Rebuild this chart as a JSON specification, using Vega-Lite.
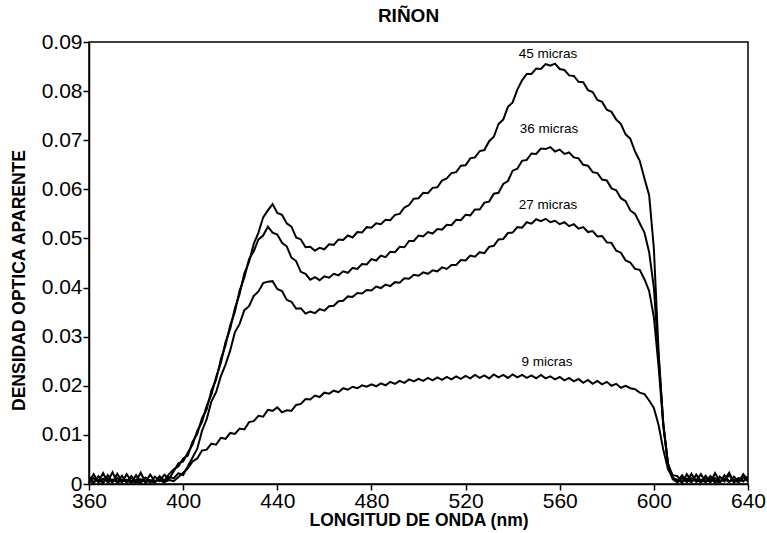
{
"$schema": "https://vega.github.io/schema/vega-lite/v6.json",
"width": 659, "height": 442,
"autosize": {"type": "none"},
"padding": {"left": 89, "top": 42, "right": 19, "bottom": 49},
"background": "white",
"config": {"view": {"stroke": "black", "strokeWidth": 1.5}, "font": "Liberation Sans"},
"title": {"text": "RIÑON", "fontSize": 19, "fontWeight": "bold", "color": "black", "offset": 5, "dx": -10},
"datasets": {
"spec": [
{"x":360,"m45":0.0008,"m36":0.0003,"m27":0.0015,"m9":0.0005},
{"x":362,"m45":0.0002,"m36":0.0012,"m27":0.0004,"m9":0.0020},
{"x":364,"m45":0.0016,"m36":0.0005,"m27":0.0009,"m9":0.0003},
{"x":366,"m45":0.0004,"m36":0.0022,"m27":0.0002,"m9":0.0011},
{"x":368,"m45":0.0011,"m36":0.0003,"m27":0.0018,"m9":0.0006},
{"x":370,"m45":0.0003,"m36":0.0009,"m27":0.0005,"m9":0.0024},
{"x":372,"m45":0.0021,"m36":0.0004,"m27":0.0012,"m9":0.0002},
{"x":374,"m45":0.0005,"m36":0.0017,"m27":0.0003,"m9":0.0009},
{"x":376,"m45":0.0009,"m36":0.0002,"m27":0.0020,"m9":0.0004},
{"x":378,"m45":0.0002,"m36":0.0013,"m27":0.0006,"m9":0.0016},
{"x":380,"m45":0.0018,"m36":0.0006,"m27":0.0003,"m9":0.0005},
{"x":382,"m45":0.0004,"m36":0.0023,"m27":0.0010,"m9":0.0002},
{"x":384,"m45":0.0012,"m36":0.0003,"m27":0.0004,"m9":0.0013},
{"x":386,"m45":0.0003,"m36":0.0008,"m27":0.0019,"m9":0.0006},
{"x":388,"m45":0.0015,"m36":0.0004,"m27":0.0005,"m9":0.0003},
{"x":390,"m45":0.0006,"m36":0.0016,"m27":0.0008,"m9":0.0014},
{"x":392,"m45":0.0019,"m36":0.0007,"m27":0.0003,"m9":0.0004},
{"x":394,"m45":0.0010,"m36":0.0020,"m27":0.0014,"m9":0.0008},
{"x":396,"m45":0.0026,"m36":0.0030,"m27":0.0012,"m9":0.0006},
{"x":398,"m45":0.0042,"m36":0.0036,"m27":0.0022,"m9":0.0014},
{"x":400,"m45":0.0046,"m36":0.0052,"m27":0.0018,"m9":0.0023},
{"x":402,"m45":0.0064,"m36":0.0058,"m27":0.0036,"m9":0.0032},
{"x":404,"m45":0.0080,"m36":0.0086,"m27":0.0054,"m9":0.0046},
{"x":406,"m45":0.0108,"m36":0.0102,"m27":0.0072,"m9":0.0052},
{"x":408,"m45":0.0126,"m36":0.0134,"m27":0.0108,"m9":0.0068},
{"x":410,"m45":0.0159,"m36":0.0152,"m27":0.0132,"m9":0.0070},
{"x":412,"m45":0.0182,"m36":0.0190,"m27":0.0168,"m9":0.0082},
{"x":414,"m45":0.0218,"m36":0.0212,"m27":0.0187,"m9":0.0080},
{"x":416,"m45":0.0246,"m36":0.0254,"m27":0.0219,"m9":0.0094},
{"x":418,"m45":0.0289,"m36":0.0282,"m27":0.0243,"m9":0.0092},
{"x":420,"m45":0.0316,"m36":0.0323,"m27":0.0272,"m9":0.0104},
{"x":422,"m45":0.0358,"m36":0.0351,"m27":0.0309,"m9":0.0102},
{"x":424,"m45":0.0387,"m36":0.0394,"m27":0.0326,"m9":0.0113},
{"x":426,"m45":0.0429,"m36":0.0420,"m27":0.0354,"m9":0.0111},
{"x":428,"m45":0.0452,"m36":0.0458,"m27":0.0362,"m9":0.0126},
{"x":430,"m45":0.0489,"m36":0.0474,"m27":0.0383,"m9":0.0128},
{"x":432,"m45":0.0512,"m36":0.0498,"m27":0.0392,"m9":0.0139},
{"x":434,"m45":0.0543,"m36":0.0506,"m27":0.0409,"m9":0.0137},
{"x":436,"m45":0.0557,"m36":0.0524,"m27":0.0412,"m9":0.0151},
{"x":438,"m45":0.0570,"m36":0.0512,"m27":0.0413,"m9":0.0149},
{"x":440,"m45":0.0552,"m36":0.0508,"m27":0.0397,"m9":0.0156},
{"x":442,"m45":0.0548,"m36":0.0491,"m27":0.0393,"m9":0.0146},
{"x":444,"m45":0.0531,"m36":0.0484,"m27":0.0375,"m9":0.0150},
{"x":446,"m45":0.0524,"m36":0.0461,"m27":0.0371,"m9":0.0149},
{"x":448,"m45":0.0502,"m36":0.0454,"m27":0.0357,"m9":0.0161},
{"x":450,"m45":0.0498,"m36":0.0432,"m27":0.0358,"m9":0.0163},
{"x":452,"m45":0.0482,"m36":0.0428,"m27":0.0347,"m9":0.0173},
{"x":454,"m45":0.0483,"m36":0.0416,"m27":0.0351,"m9":0.0172},
{"x":456,"m45":0.0475,"m36":0.0421,"m27":0.0348,"m9":0.0180},
{"x":458,"m45":0.0481,"m36":0.0415,"m27":0.0356,"m9":0.0177},
{"x":460,"m45":0.0478,"m36":0.0423,"m27":0.0353,"m9":0.0186},
{"x":462,"m45":0.0488,"m36":0.0420,"m27":0.0362,"m9":0.0184},
{"x":464,"m45":0.0487,"m36":0.0428,"m27":0.0363,"m9":0.0190},
{"x":466,"m45":0.0498,"m36":0.0425,"m27":0.0372,"m9":0.0187},
{"x":468,"m45":0.0497,"m36":0.0433,"m27":0.0373,"m9":0.0195},
{"x":470,"m45":0.0506,"m36":0.0430,"m27":0.0382,"m9":0.0192},
{"x":472,"m45":0.0502,"m36":0.0440,"m27":0.0381,"m9":0.0198},
{"x":474,"m45":0.0513,"m36":0.0438,"m27":0.0389,"m9":0.0195},
{"x":476,"m45":0.0512,"m36":0.0448,"m27":0.0388,"m9":0.0201},
{"x":478,"m45":0.0523,"m36":0.0447,"m27":0.0395,"m9":0.0198},
{"x":480,"m45":0.0522,"m36":0.0458,"m27":0.0394,"m9":0.0203},
{"x":482,"m45":0.0531,"m36":0.0455,"m27":0.0402,"m9":0.0199},
{"x":484,"m45":0.0529,"m36":0.0465,"m27":0.0399,"m9":0.0205},
{"x":486,"m45":0.0538,"m36":0.0462,"m27":0.0406,"m9":0.0201},
{"x":488,"m45":0.0537,"m36":0.0473,"m27":0.0403,"m9":0.0208},
{"x":490,"m45":0.0548,"m36":0.0472,"m27":0.0411,"m9":0.0204},
{"x":492,"m45":0.0550,"m36":0.0483,"m27":0.0410,"m9":0.0210},
{"x":494,"m45":0.0563,"m36":0.0482,"m27":0.0419,"m9":0.0206},
{"x":496,"m45":0.0568,"m36":0.0495,"m27":0.0418,"m9":0.0213},
{"x":498,"m45":0.0581,"m36":0.0495,"m27":0.0426,"m9":0.0209},
{"x":500,"m45":0.0582,"m36":0.0506,"m27":0.0424,"m9":0.0214},
{"x":502,"m45":0.0593,"m36":0.0504,"m27":0.0431,"m9":0.0210},
{"x":504,"m45":0.0592,"m36":0.0513,"m27":0.0428,"m9":0.0216},
{"x":506,"m45":0.0603,"m36":0.0510,"m27":0.0435,"m9":0.0211},
{"x":508,"m45":0.0604,"m36":0.0519,"m27":0.0433,"m9":0.0217},
{"x":510,"m45":0.0618,"m36":0.0518,"m27":0.0441,"m9":0.0212},
{"x":512,"m45":0.0622,"m36":0.0528,"m27":0.0438,"m9":0.0218},
{"x":514,"m45":0.0633,"m36":0.0527,"m27":0.0446,"m9":0.0213},
{"x":516,"m45":0.0635,"m36":0.0538,"m27":0.0446,"m9":0.0219},
{"x":518,"m45":0.0648,"m36":0.0537,"m27":0.0456,"m9":0.0214},
{"x":520,"m45":0.0649,"m36":0.0548,"m27":0.0455,"m9":0.0220},
{"x":522,"m45":0.0663,"m36":0.0547,"m27":0.0465,"m9":0.0215},
{"x":524,"m45":0.0665,"m36":0.0559,"m27":0.0463,"m9":0.0222},
{"x":526,"m45":0.0678,"m36":0.0559,"m27":0.0472,"m9":0.0216},
{"x":528,"m45":0.0680,"m36":0.0573,"m27":0.0470,"m9":0.0221},
{"x":530,"m45":0.0698,"m36":0.0575,"m27":0.0483,"m9":0.0215},
{"x":532,"m45":0.0707,"m36":0.0591,"m27":0.0485,"m9":0.0223},
{"x":534,"m45":0.0733,"m36":0.0593,"m27":0.0498,"m9":0.0217},
{"x":536,"m45":0.0742,"m36":0.0611,"m27":0.0499,"m9":0.0222},
{"x":538,"m45":0.0768,"m36":0.0617,"m27":0.0511,"m9":0.0216},
{"x":540,"m45":0.0777,"m36":0.0638,"m27":0.0512,"m9":0.0223},
{"x":542,"m45":0.0803,"m36":0.0642,"m27":0.0523,"m9":0.0217},
{"x":544,"m45":0.0822,"m36":0.0658,"m27":0.0522,"m9":0.0222},
{"x":546,"m45":0.0835,"m36":0.0660,"m27":0.0533,"m9":0.0216},
{"x":548,"m45":0.0835,"m36":0.0673,"m27":0.0530,"m9":0.0221},
{"x":550,"m45":0.0846,"m36":0.0672,"m27":0.0539,"m9":0.0215},
{"x":552,"m45":0.0845,"m36":0.0683,"m27":0.0535,"m9":0.0222},
{"x":554,"m45":0.0855,"m36":0.0682,"m27":0.0540,"m9":0.0215},
{"x":556,"m45":0.0852,"m36":0.0686,"m27":0.0533,"m9":0.0219},
{"x":558,"m45":0.0856,"m36":0.0677,"m27":0.0536,"m9":0.0213},
{"x":560,"m45":0.0845,"m36":0.0681,"m27":0.0529,"m9":0.0218},
{"x":562,"m45":0.0843,"m36":0.0672,"m27":0.0533,"m9":0.0211},
{"x":564,"m45":0.0832,"m36":0.0675,"m27":0.0525,"m9":0.0216},
{"x":566,"m45":0.0831,"m36":0.0665,"m27":0.0529,"m9":0.0209},
{"x":568,"m45":0.0819,"m36":0.0663,"m27":0.0520,"m9":0.0214},
{"x":570,"m45":0.0818,"m36":0.0650,"m27":0.0523,"m9":0.0206},
{"x":572,"m45":0.0802,"m36":0.0648,"m27":0.0513,"m9":0.0212},
{"x":574,"m45":0.0798,"m36":0.0635,"m27":0.0515,"m9":0.0204},
{"x":576,"m45":0.0782,"m36":0.0633,"m27":0.0504,"m9":0.0210},
{"x":578,"m45":0.0778,"m36":0.0620,"m27":0.0505,"m9":0.0203},
{"x":580,"m45":0.0762,"m36":0.0618,"m27":0.0492,"m9":0.0208},
{"x":582,"m45":0.0758,"m36":0.0602,"m27":0.0491,"m9":0.0200},
{"x":584,"m45":0.0742,"m36":0.0598,"m27":0.0475,"m9":0.0204},
{"x":586,"m45":0.0733,"m36":0.0582,"m27":0.0471,"m9":0.0196},
{"x":588,"m45":0.0712,"m36":0.0576,"m27":0.0455,"m9":0.0200},
{"x":590,"m45":0.0703,"m36":0.0557,"m27":0.0451,"m9":0.0195},
{"x":592,"m45":0.0677,"m36":0.0550,"m27":0.0438,"m9":0.0193},
{"x":594,"m45":0.0658,"m36":0.0531,"m27":0.0436,"m9":0.0186},
{"x":596,"m45":0.0622,"m36":0.0512,"m27":0.0417,"m9":0.0183},
{"x":598,"m45":0.0588,"m36":0.0472,"m27":0.0393,"m9":0.0170},
{"x":600,"m45":0.0480,"m36":0.0400,"m27":0.0340,"m9":0.0155},
{"x":602,"m45":0.0270,"m36":0.0260,"m27":0.0240,"m9":0.0120},
{"x":604,"m45":0.0120,"m36":0.0125,"m27":0.0120,"m9":0.0070},
{"x":606,"m45":0.0040,"m36":0.0040,"m27":0.0042,"m9":0.0030},
{"x":608,"m45":0.0014,"m36":0.0018,"m27":0.0010,"m9":0.0012},
{"x":610,"m45":0.0005,"m36":0.0016,"m27":0.0003,"m9":0.0009},
{"x":612,"m45":0.0018,"m36":0.0004,"m27":0.0012,"m9":0.0003},
{"x":614,"m45":0.0003,"m36":0.0011,"m27":0.0005,"m9":0.0020},
{"x":616,"m45":0.0012,"m36":0.0003,"m27":0.0021,"m9":0.0006},
{"x":618,"m45":0.0006,"m36":0.0019,"m27":0.0004,"m9":0.0010},
{"x":620,"m45":0.0020,"m36":0.0005,"m27":0.0009,"m9":0.0003},
{"x":622,"m45":0.0004,"m36":0.0012,"m27":0.0003,"m9":0.0017},
{"x":624,"m45":0.0011,"m36":0.0003,"m27":0.0016,"m9":0.0005},
{"x":626,"m45":0.0003,"m36":0.0022,"m27":0.0006,"m9":0.0012},
{"x":628,"m45":0.0015,"m36":0.0006,"m27":0.0003,"m9":0.0004},
{"x":630,"m45":0.0005,"m36":0.0010,"m27":0.0018,"m9":0.0009},
{"x":632,"m45":0.0019,"m36":0.0004,"m27":0.0005,"m9":0.0023},
{"x":634,"m45":0.0004,"m36":0.0015,"m27":0.0009,"m9":0.0003},
{"x":636,"m45":0.0012,"m36":0.0005,"m27":0.0003,"m9":0.0011},
{"x":638,"m45":0.0006,"m36":0.0020,"m27":0.0014,"m9":0.0005},
{"x":640,"m45":0.0014,"m36":0.0008,"m27":0.0005,"m9":0.0016}
],
"labels": [
{"x":555,"y":0.0875,"label":"45 micras"},
{"x":555.4,"y":0.0722,"label":"36 micras"},
{"x":555,"y":0.0569,"label":"27 micras"},
{"x":554.6,"y":0.0248,"label":"9 micras"}
]
},
"layer": [
{
"data": {"name": "spec"},
"transform": [{"fold": ["m45", "m36", "m27", "m9"], "as": ["serie", "v"]}],
"mark": {"type": "line", "strokeWidth": 2, "color": "black", "clip": true},
"encoding": {
"x": {"field": "x", "type": "quantitative", "scale": {"domain": [360, 640], "nice": false},
"axis": {"values": [360,400,440,480,520,560,600,640], "labelFontSize": 21, "labelColor": "black", "tickColor": "black", "domainColor": "black", "domainWidth": 1.5, "tickSize": 6, "tickWidth": 1.5, "labelPadding": 0, "labelFlush": false, "grid": false, "title": "LONGITUD DE ONDA (nm)", "titleFontSize": 17.5, "titleFontWeight": "bold", "titleColor": "black", "titlePadding": 0}},
"y": {"field": "v", "type": "quantitative", "scale": {"domain": [0, 0.09], "nice": false},
"axis": {"values": [0,0.01,0.02,0.03,0.04,0.05,0.06,0.07,0.08,0.09], "labelExpr": "datum.value == 0 ? '0' : format(datum.value, '.2f')", "labelFontSize": 21, "labelColor": "black", "tickColor": "black", "domainColor": "black", "domainWidth": 1.5, "tickSize": 6, "tickWidth": 1.5, "labelPadding": 1, "labelFlush": false, "grid": false, "title": "DENSIDAD OPTICA APARENTE", "titleFontSize": 17.5, "titleFontWeight": "bold", "titleColor": "black", "titleX": -70, "titleY": 238, "titleBaseline": "middle"}},
"detail": {"field": "serie"}
}
},
{
"data": {"name": "labels"},
"mark": {"type": "text", "fontSize": 13.5, "color": "black", "baseline": "middle"},
"encoding": {
"x": {"field": "x", "type": "quantitative"},
"y": {"field": "y", "type": "quantitative"},
"text": {"field": "label"}
}
}
]
}
